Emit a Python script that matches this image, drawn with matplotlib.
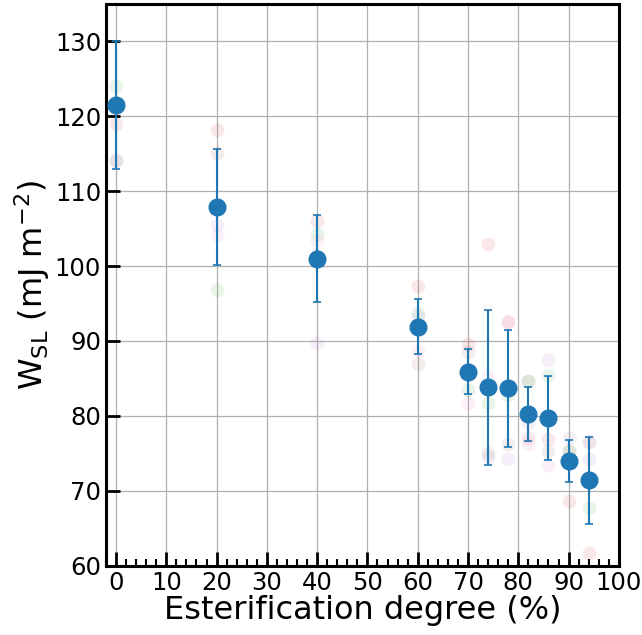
import matplotlib.pyplot as plt
from matplotlib.ticker import MultipleLocator

# esterification degree (%)
degree = [0, 20, 40, 60, 70, 74, 78, 82, 86, 90, 94]

# individual replicates (faded points)
rep_red = [118.9, 118.1, 106.0, 97.4, 89.6, 102.9, 92.5, 77.0, 76.9, 68.6, 61.7]
rep_green = [124.0, 96.8, 104.3, 93.7, 83.4, 81.7, 82.8, 84.6, 85.5, 75.3, 67.7]
rep_purple = [114.2, 105.5, 89.7, 93.3, 86.3, 74.5, 74.2, 79.1, 87.4, 77.0, 74.2]
rep_pink = [136.4, 104.1, 103.5, 88.6, 81.7, 85.3, 92.7, 76.2, 73.4, 73.8, 76.7]
rep_brown = [114.0, 115.1, 101.5, 86.9, 88.5, 75.1, 76.2, 84.6, 75.3, 75.3, 76.5]

# mean and standard deviation
w_mean = [121.5, 107.9, 101.0, 91.9, 85.9, 83.8, 83.7, 80.3, 79.7, 74.0, 71.4]
w_std = [8.5, 7.7, 5.8, 3.7, 3.0, 10.3, 7.8, 3.6, 5.6, 2.8, 5.8]

fig = plt.figure(figsize=(6.42, 6.35), dpi=100)
ax = fig.add_axes([0.165, 0.109, 0.799, 0.885])

reps = [(rep_red, 'C3'), (rep_green, 'C2'), (rep_purple, 'C4'),
        (rep_pink, 'C6'), (rep_brown, 'C5')]
for vals, col in reps:
    ax.plot(degree, vals, 'o', color=col, alpha=0.1, ms=10, mec='none', zorder=2)

ax.errorbar(degree, w_mean, yerr=w_std, fmt='o', color='C0', ms=12,
            elinewidth=1.5, capsize=3, capthick=1.2, zorder=3)

ax.set_xlim(-2, 100)
ax.set_ylim(60, 135)
ax.xaxis.set_major_locator(MultipleLocator(10))
ax.xaxis.set_minor_locator(MultipleLocator(2))
ax.yaxis.set_major_locator(MultipleLocator(10))
ax.grid(True, color='#b0b0b0', lw=0.9)
ax.set_axisbelow(True)

for sp in ax.spines.values():
    sp.set_linewidth(2.2)
ax.tick_params(which='major', direction='in', length=10, width=2, labelsize=17.5)
ax.tick_params(which='minor', direction='in', length=5, width=1.5)

ax.set_xlabel('Esterification degree (%)', fontsize=23, labelpad=0)
ax.set_ylabel(r'W$_{\mathrm{SL}}$ (mJ m$^{-2}$)', fontsize=23, labelpad=2)

fig.savefig('out.png', dpi=100)
